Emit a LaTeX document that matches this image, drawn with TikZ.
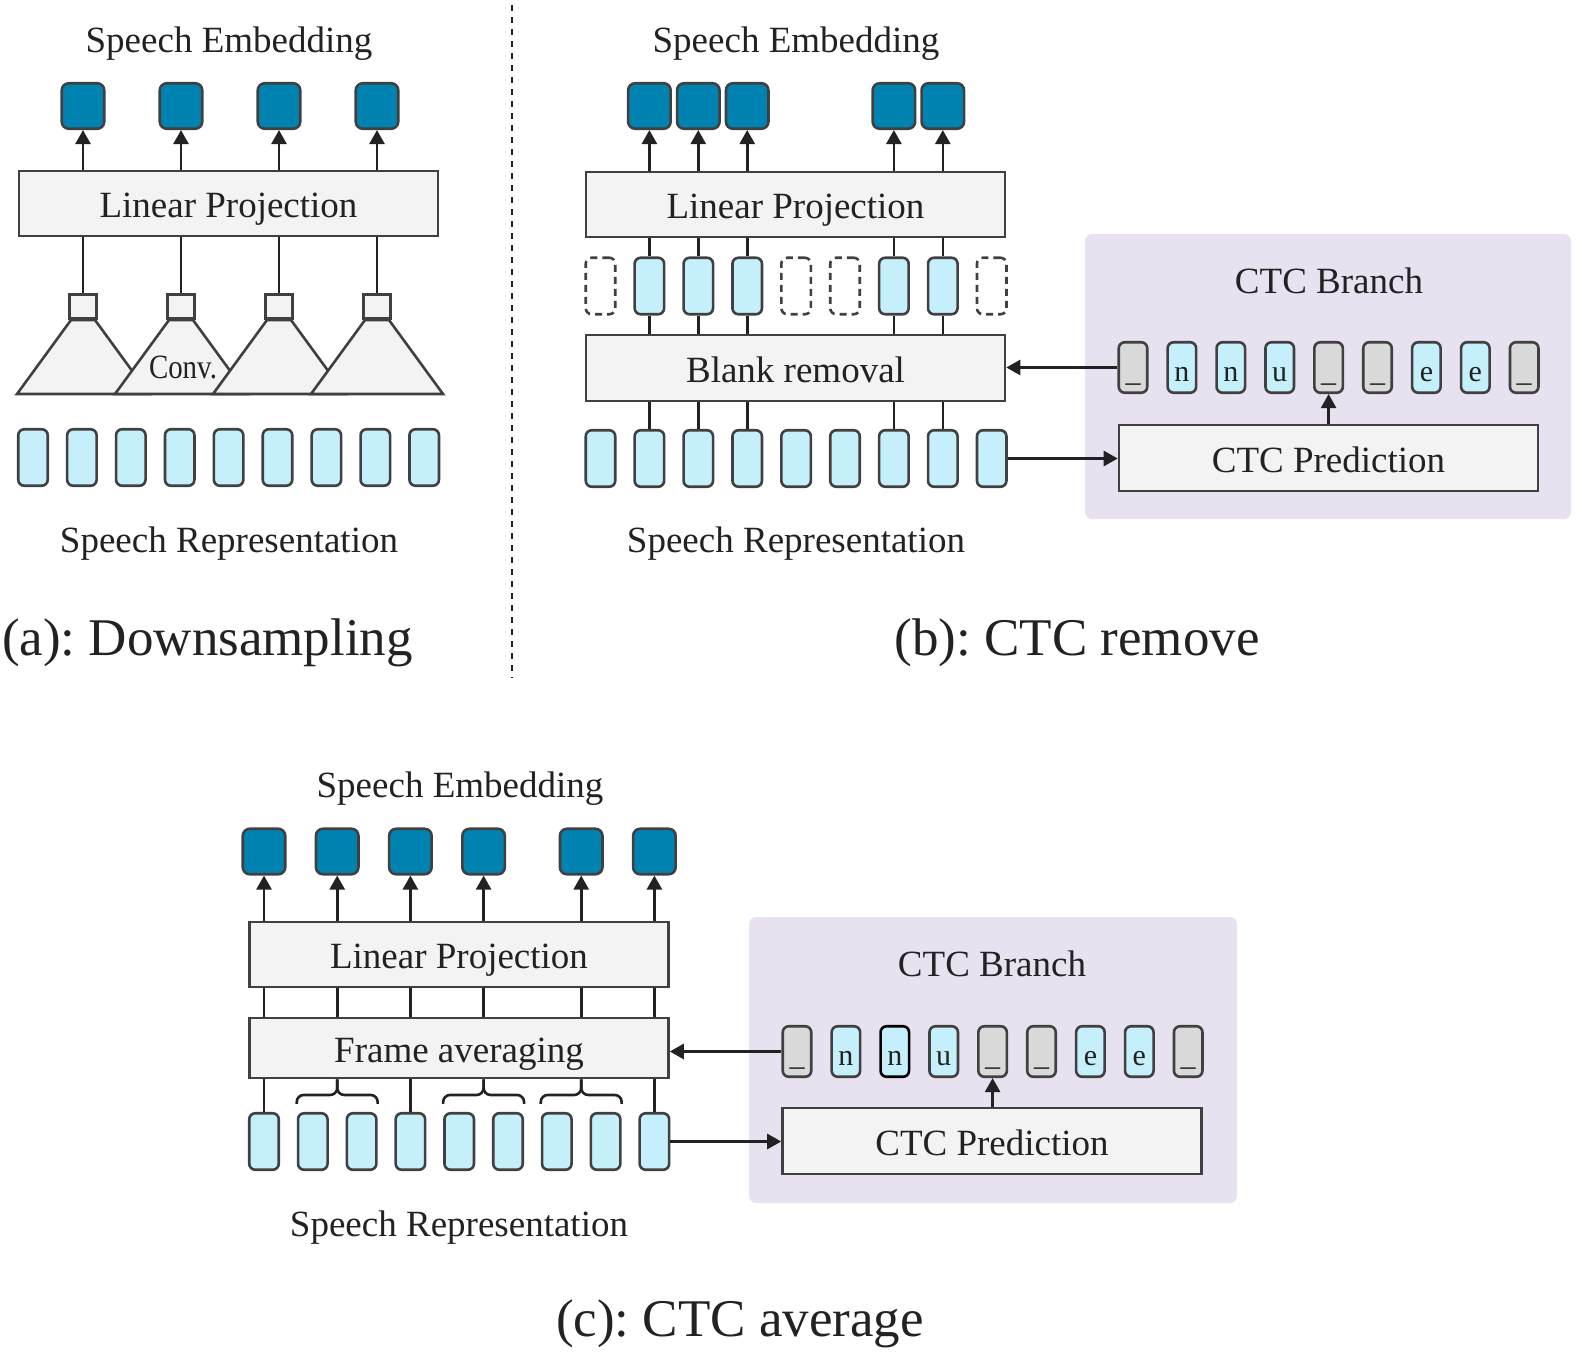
\documentclass[tikz,border=0pt]{standalone}
\usepackage{fontspec}
\setmainfont{Liberation Serif}
\usepackage{graphicx}
\usetikzlibrary{arrows.meta,calc}
\definecolor{bord}{HTML}{404040}
\definecolor{embblue}{HTML}{0083B1}
\definecolor{repblue}{HTML}{C6EFFC}
\definecolor{boxgray}{HTML}{F3F3F3}
\definecolor{tokgray}{HTML}{D9D9D9}
\definecolor{lav}{HTML}{E7E1F0}
\definecolor{txt}{HTML}{222222}
\newcommand{\fsLab}{\fontsize{18.5}{22}\selectfont}
\newcommand{\fsTitle}{\fontsize{26.5}{32}\selectfont}
\newcommand{\fsTok}{\fontsize{15}{18}\selectfont}
\frenchspacing
\begin{document}
\begin{tikzpicture}[x=0.5pt,y=-0.5pt,
 lw/.style={line width=1.3pt},
 emb/.style={draw=bord, lw, fill=embblue, rounded corners=3.5pt, minimum width=21.25pt, minimum height=22.75pt, inner sep=0pt},
 rep/.style={draw=bord, lw, fill=repblue, rounded corners=3pt, minimum width=14.75pt, minimum height=28.25pt, inner sep=0pt},
 ghost/.style={draw=bord, lw, dash pattern=on 3.5pt off 2.5pt, rounded corners=3pt, minimum width=14.75pt, minimum height=28.25pt, inner sep=0pt},
 bigbox/.style={draw=bord, lw, fill=boxgray, minimum width=209.5pt, minimum height=32.5pt, inner sep=0pt, font=\fsLab, text=txt, text height=14pt, text depth=0pt},
 convbox/.style={draw=bord, lw, fill=boxgray, minimum width=13.25pt, minimum height=12.25pt, inner sep=0pt},
 tokbox/.style={draw=bord, lw, rounded corners=3pt, minimum width=14.25pt, minimum height=25.25pt, inner sep=0pt},
 toklbl/.style={anchor=base, inner sep=0pt, font=\fsTok, text=txt},
 lbl/.style={anchor=base, inner sep=0pt, font=\fsLab, text=txt},
 ttl/.style={anchor=base, inner sep=0pt, font=\fsTitle, text=txt},
 conn/.style={draw=txt, line width=1.3pt},
 arr/.style={conn, -{Triangle[length=7pt,width=7.5pt]}},
 branch/.style={fill=lav, rounded corners=3.5pt},
 sep/.style={draw=txt, line width=1pt, dash pattern=on 3pt off 3pt},
]
\useasboundingbox (0,0) rectangle (1578,1354);

% ================= panel (a) =================
\node[lbl] (seA) at (229,53) {Speech Embedding};
\node[bigbox] (lpA) at (228.5,203.5) {Linear Projection};
\foreach \i/\x in {1/83,2/181,3/279,4/377}{
  \node[emb] (eA\i) at (\x,106) {};
  \draw[arr] (lpA.north -| eA\i) -- (eA\i.south);
  \filldraw[fill=boxgray, draw=bord, lw] ({\x-12},320) -- ({\x+12},320) -- ({\x+66},394) -- ({\x-66},394) -- cycle;
  \node[convbox] (cA\i) at (\x,306.5) {};
  \draw[conn] (lpA.south -| cA\i) -- (cA\i.north);
}
\node[anchor=base, inner sep=0pt, font=\fontsize{17}{20}\selectfont, text=txt] (convA) at (183,378) {\scalebox{0.85}[1]{Conv.}};
\foreach \i in {1,...,9}
  \node[rep] (rA\i) at ({33+48.9*(\i-1)},457.5) {};
\node[lbl] (srA) at (229,552) {Speech Representation};
\node[ttl] (tA) at (207.5,655) {(a): Downsampling};

% separator
\coordinate (sepT) at (512,5);
\coordinate (sepB) at (512,678);
\draw[sep] (sepT) -- (sepB);

% ================= panel (b) =================
\fill[branch] (1085,234) rectangle (1571,519);
\node[lbl] (seB) at (796,53) {Speech Embedding};
\node[bigbox] (lpB) at (795.5,204.5) {Linear Projection};
\node[bigbox, minimum height=33pt] (brB) at (795.5,368) {Blank removal};
\foreach \i in {1,...,9}
  \node[rep] (rB\i) at ({600.5+48.9*(\i-1)},458.5) {};
\foreach \i in {1,5,6,9}
  \node[ghost] (gB\i) at ({600.5+48.9*(\i-1)},286) {};
\foreach \i in {2,3,4,7,8}{
  \node[rep] (gB\i) at ({600.5+48.9*(\i-1)},286) {};
  \node[emb] (eB\i) at ({600.5+48.9*(\i-1)},106) {};
  \draw[arr] (lpB.north -| eB\i) -- (eB\i.south);
  \draw[conn] (lpB.south -| gB\i) -- (gB\i.north);
  \draw[conn] (gB\i.south) -- (gB\i.south |- brB.north);
  \draw[conn] (brB.south -| rB\i) -- (rB\i.north);
}
\node[lbl] (cbB) at (1329,293) {CTC Branch};
\foreach \k/\t/\c in {1/\_/tokgray,2/n/repblue,3/n/repblue,4/u/repblue,5/\_/tokgray,6/\_/tokgray,7/e/repblue,8/e/repblue,9/\_/tokgray}{
  \node[tokbox, fill=\c] (tB\k) at ({1133+48.9*(\k-1)},367.5) {};
  \node[toklbl] (tlB\k) at ($(tB\k.south)+(0,-13)$) {\t};
}
\node[bigbox, minimum height=33pt] (cpB) at (1328.5,458) {CTC Prediction};
\draw[arr] (cpB.north -| tB5) -- (tB5.south);
\draw[arr] (tB1.west) -- (tB1.west -| brB.east);
\draw[arr] (rB9.east) -- (rB9.east -| cpB.west);
\node[lbl] (srB) at (796,552) {Speech Representation};
\node[ttl] (tBt) at (1077,655) {(b): CTC remove};

% ================= panel (c) =================
\fill[branch] (749,917) rectangle (1237,1203);
\node[lbl] (seC) at (460,797) {Speech Embedding};
\node[bigbox] (lpC) at (459,954.5) {Linear Projection};
\node[bigbox, minimum height=30pt] (faC) at (459,1048) {Frame averaging};
\foreach \i in {1,...,9}
  \node[rep] (rC\i) at ({264+48.8*(\i-1)},1141.5) {};
\foreach \j/\x in {1/264,2/337.2,3/410.4,4/483.6,5/581.2,6/654.4}{
  \node[emb] (eC\j) at (\x,851.5) {};
  \draw[arr] (lpC.north -| eC\j) -- (eC\j.south);
  \draw[conn] (lpC.south -| eC\j) -- (faC.north -| eC\j);
}
\foreach \i in {1,4,9}
  \draw[conn] (faC.south -| rC\i) -- (rC\i.north);
\foreach \a/\b in {2/3,5/6,7/8}{
  \coordinate (bL\a) at ($(rC\a.north west)+(0,-8)$);
  \coordinate (bR\a) at ($(rC\b.north east)+(0,-8)$);
  \coordinate (bM\a) at ($(bL\a)!0.5!(bR\a)+(0,-9)$);
  \draw[conn, rounded corners=3.5pt] (bL\a) |- (bM\a) -- (bM\a |- faC.south);
  \draw[conn, rounded corners=3.5pt] (bR\a) |- (bM\a) -- (bM\a |- faC.south);
}
\node[lbl] (cbC) at (992,976) {CTC Branch};
\foreach \k/\t/\c/\d in {1/\_/tokgray/bord,2/n/repblue/bord,3/n/repblue/black,4/u/repblue/bord,5/\_/tokgray/bord,6/\_/tokgray/bord,7/e/repblue/bord,8/e/repblue/bord,9/\_/tokgray/bord}{
  \node[tokbox, fill=\c, draw=\d] (tC\k) at ({797+48.9*(\k-1)},1051.5) {};
  \node[toklbl] (tlC\k) at ($(tC\k.south)+(0,-13)$) {\t};
}
\node[bigbox, minimum height=33pt] (cpC) at (992,1141) {CTC Prediction};
\draw[arr] (cpC.north -| tC5) -- (tC5.south);
\draw[arr] (tC1.west) -- (tC1.west -| faC.east);
\draw[arr] (rC9.east) -- (rC9.east -| cpC.west);
\node[lbl] (srC) at (459,1236) {Speech Representation};
\node[ttl] (tCt) at (740,1336) {(c): CTC average};
\end{tikzpicture}
\end{document}
